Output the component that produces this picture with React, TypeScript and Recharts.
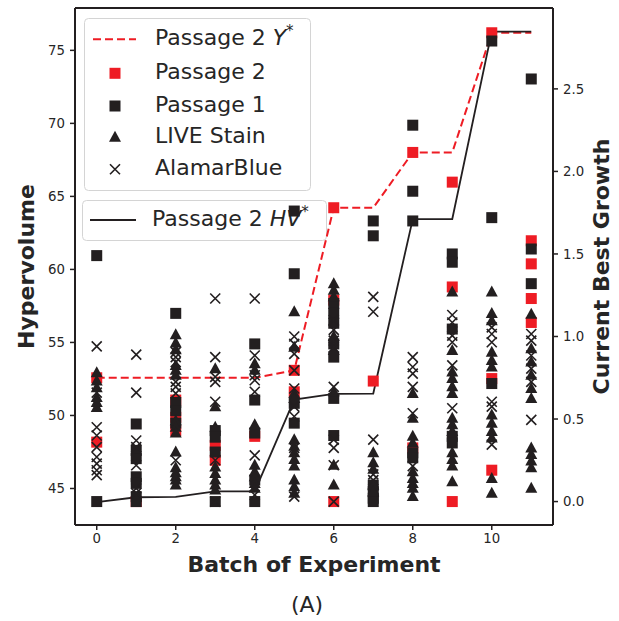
import React from "react";
import {
  ComposedChart,
  Line,
  Scatter,
  XAxis,
  YAxis,
  ReferenceLine,
} from "recharts";

// batches and the two "best so far" curves
const batches = [0, 1, 2, 3, 4, 5, 6, 7, 8, 9, 10, 11];
const bestGrowthP2 = [0.75, 0.75, 0.75, 0.75, 0.75, 0.795, 1.78, 1.78, 2.115, 2.115, 2.84, 2.84];
const hypervolumeP2 = [44.06, 44.4, 44.43, 44.8, 44.8, 51.09, 51.48, 51.5, 63.45, 63.45, 76.28, 76.28];

// growth values per batch (index = batch)
const passage2 = [
  [0.75, 0.36],
  [0.0],
  [0.615, 0.51, 0.43],
  [0.34, 0.25],
  [0.395],
  [0.795, 0.665],
  [1.78, 1.22, 0.0],
  [0.73],
  [2.115, 0.325],
  [1.935, 1.3, 0.0],
  [2.84, 0.745, 0.19],
  [1.58, 1.44, 1.23, 1.085],
];
const passage1 = [
  [1.49, 0.0],
  [0.47, 0.31, 0.26, 0.15, 0.11, 0.03, 0.0],
  [1.14, 0.6, 0.55, 0.475],
  [0.43, 0.39, 0.3, 0.0],
  [0.955, 0.615, 0.415, 0.13, 0.0],
  [1.76, 1.38, 0.595, 0.475],
  [1.2, 1.14, 1.08, 0.955, 0.875, 0.625, 0.4],
  [1.7, 1.61, 0.1, 0.06, 0.02, 0.0],
  [2.28, 1.88, 1.7, 0.295, 0.265],
  [1.5, 1.45, 1.045, 0.395, 0.355],
  [2.79, 1.72, 0.715],
  [2.56, 1.53, 1.32],
];
const liveStain = [
  [0.78, 0.73, 0.69, 0.63, 0.6, 0.57],
  [],
  [1.01, 0.96, 0.92, 0.825, 0.795, 0.765, 0.49, 0.45, 0.415, 0.3, 0.205, 0.175, 0.15, 0.13, 0.1],
  [0.805, 0.575, 0.45, 0.21, 0.17, 0.13, 0.1, 0.07],
  [0.835, 0.795, 0.465, 0.22, 0.18, 0.15, 0.11, 0.08],
  [1.15, 0.935, 0.655, 0.625, 0.375, 0.335, 0.295, 0.255, 0.215, 0.13, 0.09, 0.05],
  [1.32, 1.28, 1.24, 1.0, 0.915, 0.665, 0.22, 0.1],
  [0.295, 0.235, 0.195, 0.1, 0.06],
  [0.655, 0.505, 0.395, 0.355, 0.18, 0.14, 0.11, 0.08, 0.03],
  [1.27, 0.915, 0.785, 0.745, 0.695, 0.655, 0.505, 0.465, 0.425, 0.295, 0.255, 0.215, 0.12],
  [1.27, 1.14, 1.095, 0.905, 0.855, 0.815, 0.525, 0.475, 0.425, 0.385, 0.14, 0.05],
  [1.135, 0.925, 0.845, 0.765, 0.685, 0.625, 0.325, 0.285, 0.245, 0.205, 0.08],
];
const alamarBlue = [
  [0.94, 0.66, 0.45, 0.4, 0.33, 0.27, 0.23, 0.19, 0.16],
  [0.89, 0.66, 0.37, 0.33, 0.22, 0.08, 0.05],
  [0.905, 0.875, 0.845, 0.725, 0.695, 0.655, 0.25],
  [1.23, 0.875, 0.755, 0.725, 0.605, 0.25, 0.0],
  [1.23, 0.885, 0.765, 0.735, 0.665, 0.28, 0.04],
  [1.0, 0.955, 0.895, 0.795, 0.685, 0.575, 0.515, 0.325, 0.03],
  [1.1, 1.04, 0.975, 0.935, 0.695, 0.375, 0.325, 0.22, 0.0],
  [1.24, 1.15, 0.375, 0.165, 0.13],
  [0.875, 0.815, 0.775, 0.695, 0.535, 0.215],
  [1.13, 1.085, 1.005, 0.965, 0.825, 0.565],
  [1.055, 1.015, 0.965, 0.605, 0.575, 0.345],
  [1.015, 0.975, 0.885, 0.805, 0.725, 0.495],
];

const xTicks = [0, 2, 4, 6, 8, 10];
const hvTicks = [45, 50, 55, 60, 65, 70, 75];
const growthTicks = [0, 0.5, 1, 1.5, 2, 2.5];

const RED = "#ee1c24";
const BLACK = "#231f20";
const FONT = "DejaVu Sans";
const GROWTH_MAX = 2.99;

const lineData = batches.map((b, i) => ({ x: b, ystar: bestGrowthP2[i], hv: hypervolumeP2[i] }));
const toPoints = (series: number[][]) =>
  series.flatMap((vals, b) => vals.map((g) => ({ x: batches[b], g })));

const square = (color: string) => (p: any) =>
  <rect x={p.cx - 5.5} y={p.cy - 5.5} width={11} height={11} fill={color} />;
const triangle = (p: any) => (
  <polygon
    points={`${p.cx},${p.cy - 6.5} ${p.cx - 6},${p.cy + 4.5} ${p.cx + 6},${p.cy + 4.5}`}
    fill={BLACK}
  />
);
const cross = (p: any) => (
  <path
    d={`M${p.cx - 5},${p.cy - 5}L${p.cx + 5},${p.cy + 5}M${p.cx - 5},${p.cy + 5}L${p.cx + 5},${p.cy - 5}`}
    stroke={BLACK}
    strokeWidth={1.6}
    fill="none"
  />
);

const tickStyle = { fill: "#262626", fontSize: 13.3, fontFamily: FONT };
const titleStyle = { fontSize: 22, fontWeight: "bold" as const, fontFamily: FONT, fill: "#262626" };

const XTitle = (props: any) => {
  const vb = props.viewBox;
  return (
    <g>
      <text x={vb.x + vb.width / 2} y={vb.y + 41} textAnchor="middle" dominantBaseline="middle" {...titleStyle}>
        Batch of Experiment
      </text>
      <text x={307} y={vb.y + 81} textAnchor="middle" dominantBaseline="middle" fontSize={22} fontFamily={FONT} fill="#262626">
        (A)
      </text>
    </g>
  );
};
const LeftTitle = (props: any) => {
  const vb = props.viewBox;
  const x = vb.x + 28;
  const y = vb.y + vb.height / 2;
  return (
    <text x={x} y={y} transform={`rotate(-90 ${x} ${y})`} textAnchor="middle" dominantBaseline="middle" {...titleStyle}>
      Hypervolume
    </text>
  );
};
const RightTitle = (props: any) => {
  const vb = props.viewBox;
  const x = vb.x + 50;
  const y = vb.y + vb.height / 2;
  return (
    <text x={x} y={y} transform={`rotate(-90 ${x} ${y})`} textAnchor="middle" dominantBaseline="middle" {...titleStyle}>
      Current Best Growth
    </text>
  );
};

const legendText = { fontSize: 22, fontFamily: FONT, fill: "#262626", dominantBaseline: "middle" as const };

function LegendTop() {
  const rows = [73.3, 106, 137.3, 169.3];
  return (
    <svg width={619} height={621} style={{ position: "absolute", left: 0, top: 0, pointerEvents: "none" }}>
      <rect x={84.5} y={18.5} width={226} height={172} rx={4} fill="#fff" fillOpacity={0.8} stroke="#d4d4d4" />
      <line x1={93} y1={39.3} x2={136} y2={39.3} stroke={RED} strokeWidth={2} strokeDasharray="8 4" />
      <text x={155} y={39.3} {...legendText}>
        Passage 2 <tspan fontStyle="italic">Y</tspan>
        <tspan fontSize={15} dy={-8}>*</tspan>
      </text>
      {square(RED)({ cx: 115, cy: rows[0] })}
      <text x={155} y={rows[0]} {...legendText}>Passage 2</text>
      {square(BLACK)({ cx: 115, cy: rows[1] })}
      <text x={155} y={rows[1]} {...legendText}>Passage 1</text>
      {triangle({ cx: 115, cy: rows[2] })}
      <text x={155} y={rows[2]} {...legendText}>LIVE Stain</text>
      {cross({ cx: 115, cy: rows[3] })}
      <text x={155} y={rows[3]} {...legendText}>AlamarBlue</text>
    </svg>
  );
}

function LegendHV() {
  return (
    <svg width={619} height={621} style={{ position: "absolute", left: 0, top: 0, pointerEvents: "none" }}>
      <rect x={82.5} y={200.5} width={244} height={40} rx={4} fill="#fff" fillOpacity={0.8} stroke="#d4d4d4" />
      <line x1={90} y1={220} x2={136} y2={220} stroke={BLACK} strokeWidth={2} />
      <text x={152} y={220} {...legendText}>
        Passage 2 <tspan fontStyle="italic">HV</tspan>
        <tspan fontSize={15} dy={-8}>*</tspan>
      </text>
    </svg>
  );
}

export default function App() {
  return (
    <div style={{ position: "absolute", left: 0, top: 0, width: 619, height: 621, background: "#fff" }}>
      <LegendHV />
      <div style={{ position: "absolute", left: 0, top: 0 }}>
        <ComposedChart width={619} height={621} data={lineData} margin={{ top: 8, right: 0, bottom: 0, left: 0 }}>
          <XAxis
            dataKey="x"
            type="number"
            domain={[-0.55, 11.55]}
            ticks={xTicks}
            allowDataOverflow
            height={96}
            tick={tickStyle}
            tickSize={5}
            tickMargin={4}
            axisLine={{ stroke: BLACK, strokeWidth: 2 }}
            tickLine={{ stroke: BLACK, strokeWidth: 1.5 }}
            label={XTitle}
          />
          <YAxis
            yAxisId="left"
            type="number"
            domain={[42.5, 77.9]}
            ticks={hvTicks}
            allowDataOverflow
            width={75}
            tick={tickStyle}
            tickSize={5}
            tickMargin={5}
            axisLine={{ stroke: BLACK, strokeWidth: 2 }}
            tickLine={{ stroke: BLACK, strokeWidth: 1.5 }}
            label={LeftTitle}
          />
          <YAxis
            yAxisId="right"
            orientation="right"
            type="number"
            domain={[-0.142, GROWTH_MAX]}
            ticks={growthTicks}
            tickFormatter={(v: number) => v.toFixed(1)}
            allowDataOverflow
            width={66}
            tick={tickStyle}
            tickSize={5}
            tickMargin={5}
            axisLine={{ stroke: BLACK, strokeWidth: 2 }}
            tickLine={{ stroke: BLACK, strokeWidth: 1.5 }}
            label={RightTitle}
          />
          {/* top edge of the frame */}
          <ReferenceLine yAxisId="right" y={GROWTH_MAX} stroke={BLACK} strokeWidth={2} ifOverflow="visible" />
          <Line
            yAxisId="right"
            dataKey="ystar"
            type="linear"
            stroke={RED}
            strokeWidth={2}
            strokeDasharray="8 4"
            dot={false}
            isAnimationActive={false}
          />
          <Line
            yAxisId="left"
            dataKey="hv"
            type="linear"
            stroke={BLACK}
            strokeWidth={1.8}
            dot={false}
            isAnimationActive={false}
          />
          <Scatter yAxisId="right" data={toPoints(passage2)} dataKey="g" shape={square(RED)} isAnimationActive={false} />
          <Scatter yAxisId="right" data={toPoints(passage1)} dataKey="g" shape={square(BLACK)} isAnimationActive={false} />
          <Scatter yAxisId="right" data={toPoints(liveStain)} dataKey="g" shape={triangle} isAnimationActive={false} />
          <Scatter yAxisId="right" data={toPoints(alamarBlue)} dataKey="g" shape={cross} isAnimationActive={false} />
        </ComposedChart>
      </div>
      <LegendTop />
    </div>
  );
}
